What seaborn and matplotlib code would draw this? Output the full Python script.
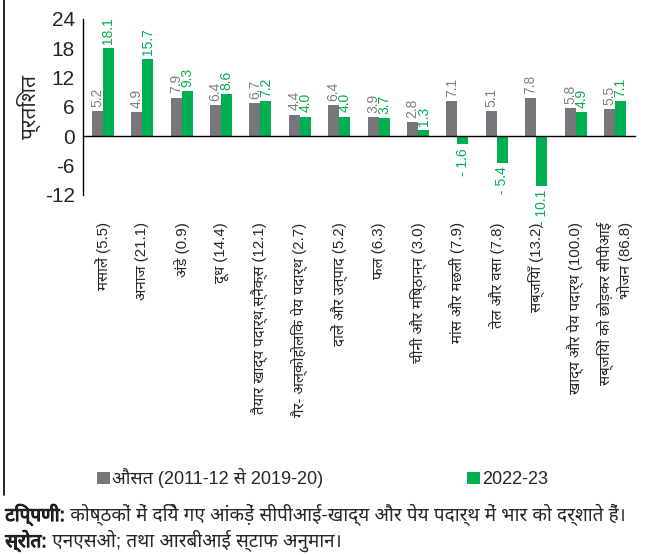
import matplotlib
matplotlib.use("Agg")
import matplotlib.pyplot as plt
import matplotlib.patheffects as pe
from matplotlib import font_manager as fm
from matplotlib.patches import Patch
from matplotlib.lines import Line2D
from matplotlib.ticker import FixedLocator
import seaborn as sns
import pandas as pd

# ---- data -------------------------------------------------------------
categories = [
    "मसालें (5.5)",
    "अनाज (21.1)",
    "अंडे (0.9)",
    "दूध (14.4)",
    "तैयार खाद्य पदार्थ,स्नैक्स (12.1)",
    "गैर- अल्कोहोलिक पेय पदार्थ (2.7)",
    "दालें और उत्पाद (5.2)",
    "फल (6.3)",
    "चीनी और मिष्ठान्न (3.0)",
    "मांस और मछली (7.9)",
    "तेल और वसा (7.8)",
    "सब्जियाँ (13.2)",
    "खाद्य और पेय पदार्थ (100.0)",
    "सब्जियों को छोड़कर सीपीआई\nभोजन (86.8)",
]
avg_2011_20 = [5.2, 4.9, 7.9, 6.4, 6.7, 4.4, 6.4, 3.9, 2.8, 7.1, 5.1, 7.8, 5.8, 5.5]
yr_2022_23 = [18.1, 15.7, 9.3, 8.6, 7.2, 4.0, 4.0, 3.7, 1.3, -1.6, -5.4, -10.1, 4.9, 7.1]
series_names = ["औसत (2011-12 से 2019-20)", "2022-23"]
y_ticks = [-12, -6, 0, 6, 12, 18, 24]
ylabel = "प्रतिशत"
note_head = "टिप्पणी:"
note_body = " कोष्ठकों में दिये गए आंकड़ें सीपीआई-खाद्य और पेय पदार्थ में भार को दर्शाते हैं।"
src_head = "स्रोत:"
src_body = " एनएसओ; तथा आरबीआई स्टाफ अनुमान।"

GREY = "#77777B"
GREEN = "#00B050"


def devanagari_family():
    """Pick an installed sans-serif face that carries Devanagari glyphs."""
    try:
        from fontTools.ttLib import TTFont
    except Exception:
        return None
    found = []
    seen = set()
    for f in fm.fontManager.ttflist:
        if f.fname in seen:
            continue
        seen.add(f.fname)
        try:
            cmap = TTFont(f.fname, fontNumber=0, lazy=True).getBestCmap()
        except Exception:
            continue
        if cmap and 0x0915 in cmap:
            found.append(f.name)
    if not found:
        return None
    preferred = ["Noto Sans Devanagari", "Noto Sans Devanagari UI", "Lohit Devanagari",
                 "Mukta", "Hind", "Poppins", "Kalimati", "Gargi", "FreeSans"]
    for p in preferred:
        if p in found:
            return p
    for n in found:
        low = n.lower()
        if "sans" in low and "mono" not in low:
            return n
    for n in found:
        if "mono" not in n.lower():
            return n
    return found[0]


sns.set_theme(style="white")
dev = devanagari_family()
families = ["Liberation Sans"] + ([dev] if dev else []) + ["DejaVu Sans"]
plt.rcParams["font.family"] = families
plt.rcParams["axes.unicode_minus"] = False

df = pd.DataFrame({
    "cat": categories * 2,
    "series": [series_names[0]] * len(categories) + [series_names[1]] * len(categories),
    "val": avg_2011_20 + yr_2022_23,
})

fig = plt.figure(figsize=(6.49, 5.55), dpi=100)
ax = fig.add_axes([0.128, 0.649, 0.850, 0.317])

sns.barplot(data=df, x="cat", y="val", hue="series", order=categories,
            hue_order=series_names, palette=[GREY, GREEN], width=0.56,
            dodge=True, legend=False, ax=ax, edgecolor="none", saturation=1)

ax.set_xlim(-0.5, len(categories) - 0.5)
ax.set_ylim(y_ticks[0], y_ticks[-1])
ax.set_yticks(y_ticks)
ax.set_yticklabels([str(t) for t in y_ticks], fontsize=15)
ax.set_ylabel(ylabel, fontsize=15, labelpad=3)
ax.set_xlabel("")

for side in ["top", "right"]:
    ax.spines[side].set_visible(False)
ax.spines["left"].set_color("black")
ax.spines["left"].set_linewidth(1.0)
ax.spines["bottom"].set_position(("data", 0))
ax.spines["bottom"].set_color("black")
ax.spines["bottom"].set_linewidth(1.0)

ax.tick_params(axis="y", direction="out", length=4, width=1, color="black", pad=2)
ax.tick_params(axis="x", which="major", length=0, pad=62, labelsize=10.8)
ax.xaxis.set_minor_locator(FixedLocator([i - 0.5 for i in range(len(categories) + 1)]))
ax.tick_params(axis="x", which="minor", direction="out", length=5, width=1, color="black")
for lbl in ax.get_xticklabels():
    lbl.set_rotation(90)
    lbl.set_va("top")
    lbl.set_ha("center")
    lbl.set_multialignment("right")

def fmt(v):
    return f"- {abs(v):.1f}" if v < 0 else f"{v:.1f}"

for cont, vals, col in zip(ax.containers, [avg_2011_20, yr_2022_23], ["#808080", GREEN]):
    ax.bar_label(cont, labels=[fmt(v) for v in vals], rotation=90, padding=3,
                 fontsize=10, color=col)

handles = [Patch(facecolor=GREY, edgecolor="none"), Patch(facecolor=GREEN, edgecolor="none")]
fig.legend(handles, series_names, loc="center", bbox_to_anchor=(0.497, 0.138),
           ncol=2, frameon=False, fontsize=13, handlelength=0.7, handleheight=0.7,
           handletextpad=0.1, columnspacing=8.0)

bold = [pe.withStroke(linewidth=0.7, foreground="black")]
fig.text(0.008, 0.072, note_head, fontsize=13.6, va="center", path_effects=bold)
fig.text(0.008, 0.025, src_head, fontsize=13.6, va="center", path_effects=bold)
fig.canvas.draw()
r = fig.canvas.get_renderer()
for head, body, y in [(note_head, note_body, 0.072), (src_head, src_body, 0.025)]:
    t = [tx for tx in fig.texts if tx.get_text() == head][0]
    bb = t.get_window_extent(r).transformed(fig.transFigure.inverted())
    fig.text(bb.x1, y, body, fontsize=13.6, va="center")

fig.add_artist(Line2D([0.006, 0.006], [0.108, 1.0], transform=fig.transFigure,
                      color="black", linewidth=1.2))

fig.savefig("out.png", dpi=100)
